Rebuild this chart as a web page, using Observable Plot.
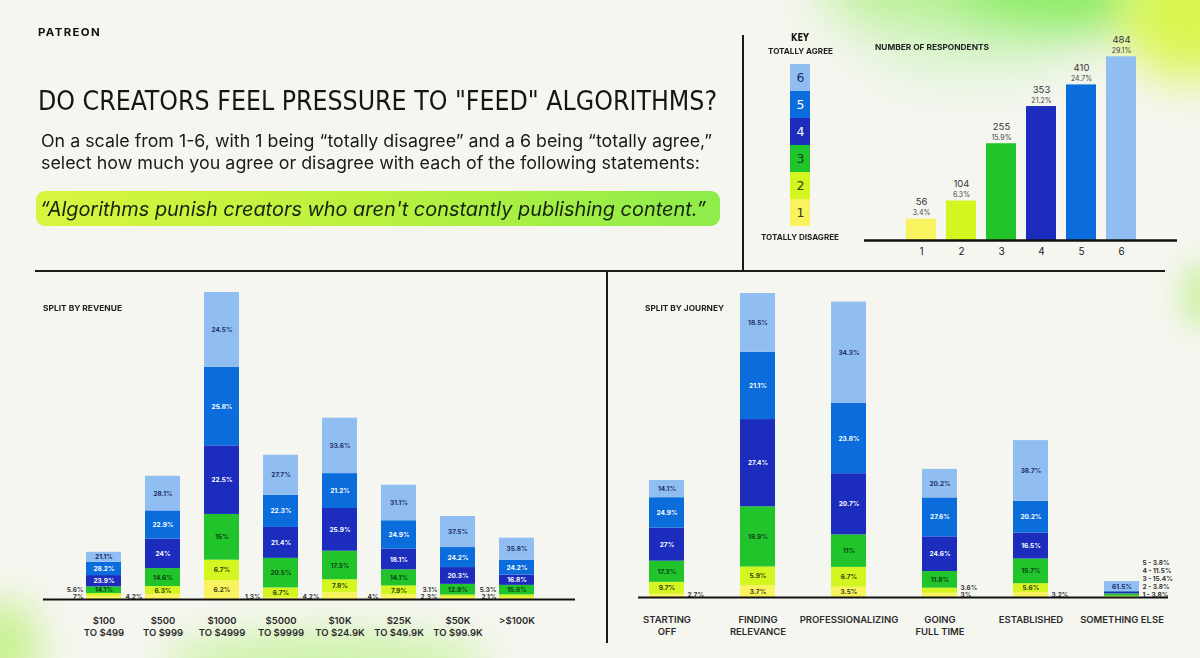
<!DOCTYPE html>
<html><head><meta charset="utf-8">
<script src="https://cdn.jsdelivr.net/npm/d3@7"></script>
<script src="https://cdn.jsdelivr.net/npm/@observablehq/plot@0.6"></script>
<style>
html,body{margin:0;padding:0;}
body{width:1200px;height:658px;overflow:hidden;background:#f6f6f1;}
#page{position:relative;width:1200px;height:658px;overflow:hidden;background:#f6f6f1;}
.fit{position:absolute;white-space:nowrap;display:inline-block;line-height:1;transform-origin:0 50%;}
.blob{position:absolute;border-radius:50%;}
.line{position:absolute;background:#1a1a1a;}
.chart{position:absolute;}
.chart svg{overflow:visible;}
</style></head>
<body><div id="page">
<div class="blob" style="left:820px;top:-70px;width:330px;height:110px;background:rgba(160,238,110,0.75);filter:blur(28px);"></div>
<div class="blob" style="left:960px;top:-40px;width:180px;height:70px;background:rgba(120,235,80,0.7);filter:blur(22px);"></div>
<div class="blob" style="left:1120px;top:-50px;width:140px;height:130px;background:rgba(215,246,70,0.95);filter:blur(24px);"></div>
<div class="blob" style="left:870px;top:20px;width:200px;height:60px;background:rgba(200,245,190,0.5);filter:blur(30px);"></div>
<div class="blob" style="left:160px;top:632px;width:330px;height:60px;background:rgba(190,242,140,0.75);filter:blur(20px);"></div>
<div class="blob" style="left:-40px;top:600px;width:80px;height:90px;background:rgba(180,238,100,0.7);filter:blur(20px);"></div>
<div class="blob" style="left:1180px;top:260px;width:40px;height:70px;background:rgba(180,238,120,0.6);filter:blur(14px);"></div>
<div class="blob" style="left:36px;top:191px;width:684px;height:35px;border-radius:9px;background:linear-gradient(90deg,#d8f53e 0%,#b9f13f 50%,#8eec4b 100%);"></div>
<div class="line" style="left:742px;top:35px;width:2px;height:236px;"></div>
<div class="line" style="left:35px;top:270px;width:1130px;height:1.5px;"></div>
<div class="line" style="left:606px;top:271px;width:1.5px;height:372px;"></div>
</div>
<script>
// ---------- data ----------
const levels = [1, 2, 3, 4, 5, 6];
const palette = ["#f8f35f", "#d4f51f", "#21c42b", "#1c2dbd", "#0b6ddc", "#90bef3"];
const labelInk = ["#3a3912", "#333a0f", "#0c3d14", "#ffffff", "#ffffff", "#1d2b66"];

const overallCounts = [56, 104, 255, 353, 410, 484];
const overallPcts = [3.4, 6.3, 15.9, 21.2, 24.7, 29.1];

const revenueGroups = ["$100\nTO $499", "$500\nTO $999", "$1000\nTO $4999", "$5000\nTO $9999",
  "$10K\nTO $24.9K", "$25K\nTO $49.9K", "$50K\nTO $99.9K", ">$100K"];
const revenueCounts = [74, 193, 481, 226, 284, 179, 130, 96];
const revenuePcts = [
  [7, 5.6, 14.1, 23.9, 28.2, 21.1],
  [4.2, 6.3, 14.6, 24, 22.9, 28.1],
  [6.2, 6.7, 15, 22.5, 25.8, 24.5],
  [1.3, 6.7, 20.5, 21.4, 22.3, 27.7],
  [4.2, 7.8, 17.3, 25.9, 21.2, 33.6],
  [4, 7.9, 14.1, 18.1, 24.9, 31.1],
  [2.3, 3.1, 12.9, 20.3, 24.2, 37.5],
  [2.1, 5.3, 15.6, 16.8, 24.2, 35.8]
];

const journeyGroups = ["STARTING\nOFF", "FINDING\nRELEVANCE", "PROFESSIONALIZING", "GOING\nFULL TIME", "ESTABLISHED", "SOMETHING ELSE"];
const journeyCounts = [191, 496, 482, 209, 256, 26];
const journeyPcts = [
  [2.7, 9.7, 17.3, 27, 24.9, 14.1],
  [3.7, 5.9, 18.9, 27.4, 21.1, 18.5],
  [3.5, 6.7, 11, 20.7, 23.8, 34.3],
  [3, 3.6, 11.8, 24.6, 27.6, 20.2],
  [3.2, 5.6, 15.7, 16.5, 20.2, 38.7],
  [3.8, 3.8, 15.4, 11.5, 3.8, 61.5]
];

// ---------- helpers ----------
const page = document.getElementById("page");
function addText(str, o) {
  const el = document.createElement("span");
  el.className = "fit";
  el.textContent = str;
  Object.assign(el.style, {
    fontSize: o.size + "px",
    fontFamily: o.family || "Inter, 'Noto Sans', sans-serif",
    fontWeight: o.weight || 400,
    fontStyle: o.style || "normal",
    fontStretch: o.stretch || "normal",
    color: o.color || "#161616",
    letterSpacing: (o.ls || 0) + "px"
  });
  page.appendChild(el);
  const r = el.getBoundingClientRect();
  const s = o.width ? o.width / r.width : 1;
  const w = r.width * s;
  const left = o.anchor === "middle" ? o.x - w / 2 : o.x;
  el.style.left = left + "px";
  el.style.top = (o.cy - r.height / 2) + "px";
  el.style.transform = `scaleX(${s})`;
}
function place(svg, left, top) {
  const d = document.createElement("div");
  d.className = "chart";
  d.style.left = left + "px";
  d.style.top = top + "px";
  d.appendChild(svg);
  page.appendChild(d);
}

// ---------- texts ----------
addText("PATREON", {x: 38, cy: 32, size: 11, weight: 700, ls: 1.3, width: 63, color: "#111"});
addText('DO CREATORS FEEL PRESSURE TO "FEED" ALGORITHMS?', {x: 38, cy: 100, size: 27, family: "'DejaVu Sans', sans-serif", stretch: "condensed", width: 679, color: "#151515"});
addText("On a scale from 1-6, with 1 being \u201ctotally disagree\u201d and a 6 being \u201ctotally agree,\u201d", {x: 41, cy: 141, size: 17.5, width: 671, color: "#1a1a1a"});
addText("select how much you agree or disagree with each of the following statements:", {x: 41, cy: 163, size: 17.5, width: 659, color: "#1a1a1a"});
addText("\u201cAlgorithms punish creators who aren't constantly publishing content.\u201d", {x: 40, cy: 209, size: 20, style: "italic", width: 666, color: "#17240f"});
addText("KEY", {x: 800, cy: 38, size: 10, weight: 700, family: "'DejaVu Sans', sans-serif", stretch: "condensed", width: 18, anchor: "middle", color: "#111"});
addText("TOTALLY AGREE", {x: 800, cy: 52, size: 7.5, weight: 700, width: 65, anchor: "middle", color: "#222"});
addText("TOTALLY DISAGREE", {x: 800, cy: 238, size: 7.5, weight: 700, width: 78, anchor: "middle", color: "#222"});
addText("NUMBER OF RESPONDENTS", {x: 875, cy: 47.5, size: 7.5, weight: 700, width: 114, color: "#222"});
addText("SPLIT BY REVENUE", {x: 43, cy: 309, size: 7.5, weight: 700, width: 79, color: "#222"});
addText("SPLIT BY JOURNEY", {x: 645, cy: 309, size: 7.5, weight: 700, width: 79, color: "#222"});

// ---------- key ----------
const keySvg = Plot.plot({
  width: 20, height: 167, margin: 0,
  style: {background: "transparent"},
  y: {domain: levels.slice().reverse(), padding: 0, axis: null},
  color: {type: "ordinal", domain: levels, range: palette},
  marks: [
    Plot.cell(levels, {y: d => d, fill: d => d}),
    ...levels.map((lv, k) => Plot.text([lv], {y: d => d, text: d => String(d), fill: labelInk[k], fontSize: 12.5, fontFamily: "'DejaVu Sans', sans-serif"}))
  ]
});
place(keySvg, 790, 61);

// ---------- overall bars ----------
const overall = levels.map((lv, i) => ({level: lv, count: overallCounts[i], pct: overallPcts[i]}));
const topSvg = Plot.plot({
  width: 330, height: 270, marginLeft: 41, marginRight: 49, marginTop: 20, marginBottom: 30,
  style: {background: "transparent", color: "#222", fontFamily: "Inter, sans-serif"},
  x: {domain: levels, paddingInner: 0.25, paddingOuter: 0.125, label: null},
  y: {domain: [0, 579.7], axis: null},
  color: {type: "ordinal", domain: levels, range: palette},
  marks: [
    Plot.barY(overall, {x: "level", y: "count", fill: "level"}),
    Plot.ruleY([0], {stroke: "#111", strokeWidth: 2.5, insetLeft: -37, insetRight: -36}),
    Plot.text(overall, {x: "level", y: "count", text: d => String(d.count), dy: -17, fontSize: 9.5, fill: "#333"}),
    Plot.text(overall, {x: "level", y: "count", text: d => d.pct + "%", dy: -6, fontSize: 7, fill: "#444"}),
    Plot.axisX({tickSize: 0, tickPadding: 7, fontSize: 10, label: null})
  ]
});
place(topSvg, 860, 0);

// ---------- stacked charts ----------
function buildRows(groups, counts, pcts) {
  const rows = [];
  groups.forEach((g, i) => {
    const p = pcts[i];
    const s = d3.sum(p);
    let acc = 0;
    p.forEach((v, k) => {
      const h = counts[i] * v / s;
      rows.push({group: g, level: levels[k], pct: v, y1: acc, y2: acc + h, ym: acc + h / 2, h});
      acc += h;
    });
  });
  return rows;
}
function stacked(cfg) {
  const rows = buildRows(cfg.groups, cfg.counts, cfg.pcts);
  const frameH = cfg.height - cfg.mt - cfg.mb;
  const pxPer = frameH / cfg.yMax;
  const fits = r => r.h * pxPer >= 9 || (r.h * pxPer >= 6 && r.pct >= 4.5);
  const inside = rows.filter(fits);
  const outside = [];
  cfg.groups.forEach(g => {
    const os = rows.filter(r => r.group === g && !fits(r));
    const list = os.length >= 3;
    os.forEach((r, i) => outside.push({...r, i, list, text: list ? `${r.level} - ${r.pct}%` : `${r.pct}%`}));
  });
  const outsideMarks = d3.groups(outside, o => o.i, o => o.list).flatMap(([i, sub]) =>
    sub.map(([list, arr]) => Plot.text(arr, {
      x: "group", y: () => 0, text: "text",
      dx: cfg.side * 20.5, dy: -(3 + i * (list ? 8 : 6.5)),
      textAnchor: cfg.side < 0 ? "end" : "start",
      fontSize: 6.5, fontWeight: 700, fill: "#333"
    }))
  );
  return Plot.plot({
    width: cfg.width, height: cfg.height,
    marginLeft: cfg.ml, marginRight: cfg.mr, marginTop: cfg.mt, marginBottom: cfg.mb,
    style: {background: "transparent", color: "#2b2b2b", fontFamily: "Inter, sans-serif"},
    x: {domain: cfg.groups, paddingInner: cfg.pi, paddingOuter: cfg.po, label: null},
    y: {domain: [0, cfg.yMax], axis: null},
    color: {type: "ordinal", domain: levels, range: palette},
    marks: [
      Plot.barY(rows, {x: "group", y1: "y1", y2: "y2", fill: "level"}),
      ...levels.map((lv, k) => Plot.text(inside.filter(r => r.level === lv), {
        x: "group", y: "ym", text: d => d.pct + "%", fill: labelInk[k], fontSize: 6.5, fontWeight: 700
      })),
      ...outsideMarks,
      Plot.ruleY([0], {stroke: "#111", strokeWidth: 2, insetLeft: cfg.il, insetRight: cfg.ir}),
      Plot.axisX({tickSize: 0, tickPadding: cfg.tp, fontSize: 9.5, fontWeight: 600, lineHeight: 1.3, label: null})
    ]
  });
}

place(stacked({
  groups: revenueGroups, counts: revenueCounts, pcts: revenuePcts,
  width: 575, height: 378, ml: 42.85, mr: 57.85, mt: 10, mb: 59, yMax: 484.1,
  pi: 0.41, po: 0.205, side: -1, il: -29.85, ir: -27.85, tp: 15.5
}), 30, 280);

place(stacked({
  groups: journeyGroups, counts: journeyCounts, pcts: journeyPcts,
  width: 590, height: 378, ml: 9.15, mr: 30.65, mt: 10, mb: 61, yMax: 500.9,
  pi: 0.618, po: 0.309, side: 1, il: 18.85, ir: 1.35, tp: 16.5
}), 610, 280);
</script>
</body></html>
